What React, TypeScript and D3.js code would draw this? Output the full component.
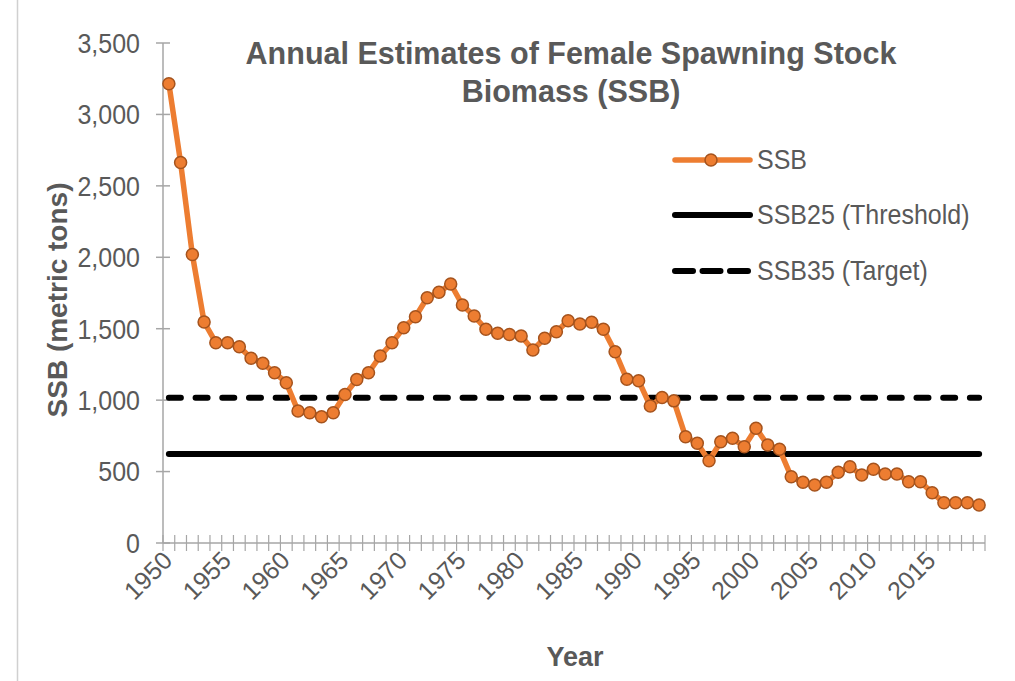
import * as d3 from "d3";
import React from "react";

// categories
const firstYear = 1950;
const lastYear = 2019;
const years: number[] = d3.range(firstYear, lastYear + 1);
const labelYears = [1950, 1955, 1960, 1965, 1970, 1975, 1980, 1985, 1990, 1995, 2000, 2005, 2010, 2015];
const yTicks = [0, 500, 1000, 1500, 2000, 2500, 3000, 3500];

// SSB, metric tons
const ssb = [
  3215, 2663, 2019, 1547, 1402, 1402, 1374, 1293, 1258, 1192,
  1122, 924, 912, 884, 912, 1040, 1144, 1192, 1309, 1402,
  1507, 1584, 1717, 1755, 1813, 1666, 1589, 1496, 1468, 1460,
  1449, 1351, 1433, 1479, 1556, 1533, 1545, 1496, 1339, 1146,
  1136, 959, 1018, 995, 744, 698, 576, 709, 733, 674,
  803, 686, 656, 464, 425, 406, 425, 495, 534, 476,
  516, 483, 483, 429, 429, 352, 282, 282, 282, 266,
];
const ssb25 = 623;
const ssb35 = 1017;

const legendItems = ["SSB", "SSB25 (Threshold)", "SSB35 (Target)"];

const font = "'Liberation Sans', Arial, sans-serif";
const textGray = "#595959";
const axisGray = "#a6a6a6";
const orange = "#ed7d31";
const markerEdge = "#a5531d";

export default function App() {
  const ref = React.useRef<SVGSVGElement | null>(null);

  const width = 1015;
  const height = 681;
  const plot = { left: 163, right: 985, top: 43, bottom: 543 };

  const draw = (el: SVGSVGElement) => {
    const svg = d3.select(el);
    svg.selectAll("*").remove();

    const x = d3
      .scaleBand<number>()
      .domain(years)
      .range([plot.left, plot.right])
      .padding(0);
    const cx = (yr: number) => (x(yr) as number) + x.bandwidth() / 2;

    const y = d3.scaleLinear().domain([0, 3500]).range([plot.bottom, plot.top]);

    // left frame line of the original screenshot
    svg
      .append("line")
      .attr("x1", 17.5)
      .attr("x2", 17.5)
      .attr("y1", 0)
      .attr("y2", height)
      .attr("stroke", "#d0d0d0")
      .attr("stroke-width", 1.5);

    // y axis
    const yAxis = svg.append("g");
    yAxis
      .append("line")
      .attr("x1", plot.left)
      .attr("x2", plot.left)
      .attr("y1", y(3500))
      .attr("y2", y(0))
      .attr("stroke", axisGray)
      .attr("stroke-width", 1.5);
    yAxis
      .selectAll("line.tick")
      .data(yTicks)
      .join("line")
      .attr("class", "tick")
      .attr("x1", plot.left - 7)
      .attr("x2", plot.left + 7)
      .attr("y1", (d) => y(d))
      .attr("y2", (d) => y(d))
      .attr("stroke", axisGray)
      .attr("stroke-width", 1.5);
    yAxis
      .selectAll("text")
      .data(yTicks)
      .join("text")
      .attr("transform", (d) => `translate(140,${y(d)}) scale(1,1.1)`)
      .attr("dy", "0.36em")
      .attr("text-anchor", "end")
      .attr("font-family", font)
      .attr("font-size", 25)
      .attr("fill", textGray)
      .text((d) => d3.format(",")(d));

    // x axis
    const xAxis = svg.append("g");
    xAxis
      .append("line")
      .attr("x1", plot.left)
      .attr("x2", plot.right)
      .attr("y1", plot.bottom)
      .attr("y2", plot.bottom)
      .attr("stroke", axisGray)
      .attr("stroke-width", 1.5);
    const boundaries = [...years.map((yr) => x(yr) as number), plot.right];
    xAxis
      .selectAll("line.tick")
      .data(boundaries)
      .join("line")
      .attr("class", "tick")
      .attr("x1", (d) => d)
      .attr("x2", (d) => d)
      .attr("y1", plot.bottom - 8)
      .attr("y2", plot.bottom + 8)
      .attr("stroke", axisGray)
      .attr("stroke-width", 1.2);
    xAxis
      .selectAll("text")
      .data(labelYears)
      .join("text")
      .attr("transform", (d) => `translate(${cx(d) + 5},${plot.bottom + 19}) rotate(-45)`)
      .attr("text-anchor", "end")
      .attr("font-family", font)
      .attr("font-size", 25)
      .attr("fill", textGray)
      .text((d) => String(d));

    // reference lines
    svg
      .append("line")
      .attr("x1", cx(firstYear))
      .attr("x2", cx(lastYear))
      .attr("y1", y(ssb25))
      .attr("y2", y(ssb25))
      .attr("stroke", "#000")
      .attr("stroke-width", 6)
      .attr("stroke-linecap", "round");
    svg
      .append("line")
      .attr("x1", cx(firstYear))
      .attr("x2", cx(lastYear))
      .attr("y1", y(ssb35))
      .attr("y2", y(ssb35))
      .attr("stroke", "#000")
      .attr("stroke-width", 6)
      .attr("stroke-linecap", "round")
      .attr("stroke-dasharray", "12 14.7");

    // SSB series
    const line = d3
      .line<number>()
      .x((_, i) => cx(years[i]))
      .y((d) => y(d));
    svg
      .append("path")
      .datum(ssb)
      .attr("d", line)
      .attr("fill", "none")
      .attr("stroke", orange)
      .attr("stroke-width", 5.5)
      .attr("stroke-linejoin", "round");
    svg
      .append("g")
      .selectAll("circle")
      .data(ssb)
      .join("circle")
      .attr("cx", (_, i) => cx(years[i]))
      .attr("cy", (d) => y(d))
      .attr("r", 6)
      .attr("fill", orange)
      .attr("stroke", markerEdge)
      .attr("stroke-width", 1.5);

    // title
    const title = svg
      .append("text")
      .attr("text-anchor", "middle")
      .attr("font-family", font)
      .attr("font-size", 30.5)
      .attr("font-weight", "bold")
      .attr("fill", textGray);
    title.append("tspan").attr("x", 571).attr("y", 64).text("Annual Estimates of Female Spawning Stock");
    title.append("tspan").attr("x", 571).attr("y", 102).text("Biomass (SSB)");

    // axis titles
    svg
      .append("text")
      .attr("transform", "translate(67,300) rotate(-90)")
      .attr("text-anchor", "middle")
      .attr("font-family", font)
      .attr("font-size", 28)
      .attr("font-weight", "bold")
      .attr("fill", textGray)
      .text("SSB (metric tons)");
    svg
      .append("text")
      .attr("x", 575)
      .attr("y", 666)
      .attr("text-anchor", "middle")
      .attr("font-family", font)
      .attr("font-size", 27)
      .attr("font-weight", "bold")
      .attr("fill", textGray)
      .text("Year");

    // legend
    const lg = svg.append("g");
    const rowY = [160, 215, 271];
    legendItems.forEach((name, i) => {
      const ly = rowY[i];
      const seg = lg
        .append("line")
        .attr("x1", 675)
        .attr("x2", 750)
        .attr("y1", ly)
        .attr("y2", ly)
        .attr("stroke-linecap", "round");
      if (i === 0) {
        seg.attr("stroke", orange).attr("stroke-width", 5.5);
        lg.append("circle")
          .attr("cx", 711)
          .attr("cy", ly)
          .attr("r", 6)
          .attr("fill", orange)
          .attr("stroke", markerEdge)
          .attr("stroke-width", 1.5);
      } else if (i === 1) {
        seg.attr("stroke", "#000").attr("stroke-width", 6);
      } else {
        seg.attr("stroke", "#000").attr("stroke-width", 6).attr("stroke-dasharray", "18 9.5");
      }
      lg.append("text")
        .attr("transform", `translate(757,${ly + 9}) scale(1,1.1)`)
        .attr("font-family", font)
        .attr("font-size", 25)
        .attr("fill", textGray)
        .text(name);
    });
  };

  React.useEffect(() => {
    if (ref.current) draw(ref.current);
  });

  return (
    <div style={{ position: "absolute", left: 0, top: 0 }}>
      <svg ref={ref} width={width} height={height} style={{ display: "block", background: "#fff" }} />
    </div>
  );
}
